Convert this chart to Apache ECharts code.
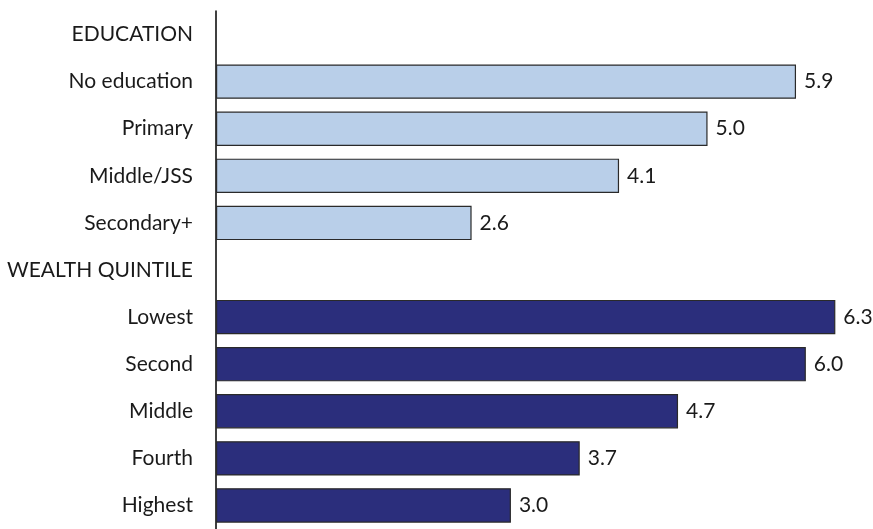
<!DOCTYPE html>
<html>
<head>
<meta charset="utf-8">
<script src="https://cdn.jsdelivr.net/npm/echarts@6/dist/echarts.min.js"></script>
<style>html,body{margin:0;padding:0;background:#fff}#c{width:873px;height:529px}</style>
</head>
<body>
<div id="c"></div>
<script>
const eduHeader = 'EDUCATION';
const eduCategories = ['No education', 'Primary', 'Middle/JSS', 'Secondary+'];
const eduValues = [5.9, 5.0, 4.1, 2.6];
const wealthHeader = 'WEALTH QUINTILE';
const wealthCategories = ['Lowest', 'Second', 'Middle', 'Fourth', 'Highest'];
const wealthValues = [6.3, 6.0, 4.7, 3.7, 3.0];

const eduColor = '#b9cfe9';
const wealthColor = '#2b2e7c';

const categories = [eduHeader, ...eduCategories, wealthHeader, ...wealthCategories];
const data = [
  {value: null},
  ...eduValues.map(v => ({value: v, itemStyle: {color: eduColor}})),
  {value: null},
  ...wealthValues.map(v => ({value: v, itemStyle: {color: wealthColor}}))
];

const chart = echarts.init(document.getElementById('c'), null, {renderer: 'canvas'});
const font = 'Lato, "Open Sans", sans-serif';
chart.setOption({
  animation: false,
  grid: {left: 216, right: 18, top: 11, height: 525, containLabel: false},
  xAxis: {
    type: 'value', min: 0, max: 6.5,
    show: false
  },
  yAxis: {
    type: 'category', data: categories, inverse: true,
    axisLine: {show: true, lineStyle: {color: '#000', width: 1.5}},
    axisTick: {show: false},
    axisLabel: {color: '#1a1a1a', fontSize: 21, fontFamily: font, margin: 23}
  },
  series: [{
    type: 'bar',
    data: data,
    barCategoryGap: '27%',
    itemStyle: {borderColor: '#2a2a2a', borderWidth: 1.2},
    label: {
      show: true, position: 'right', distance: 8,
      color: '#1a1a1a', fontSize: 21, fontFamily: font,
      formatter: p => p.value == null ? '' : p.value.toFixed(1)
    }
  }]
});
</script>
</body>
</html>
